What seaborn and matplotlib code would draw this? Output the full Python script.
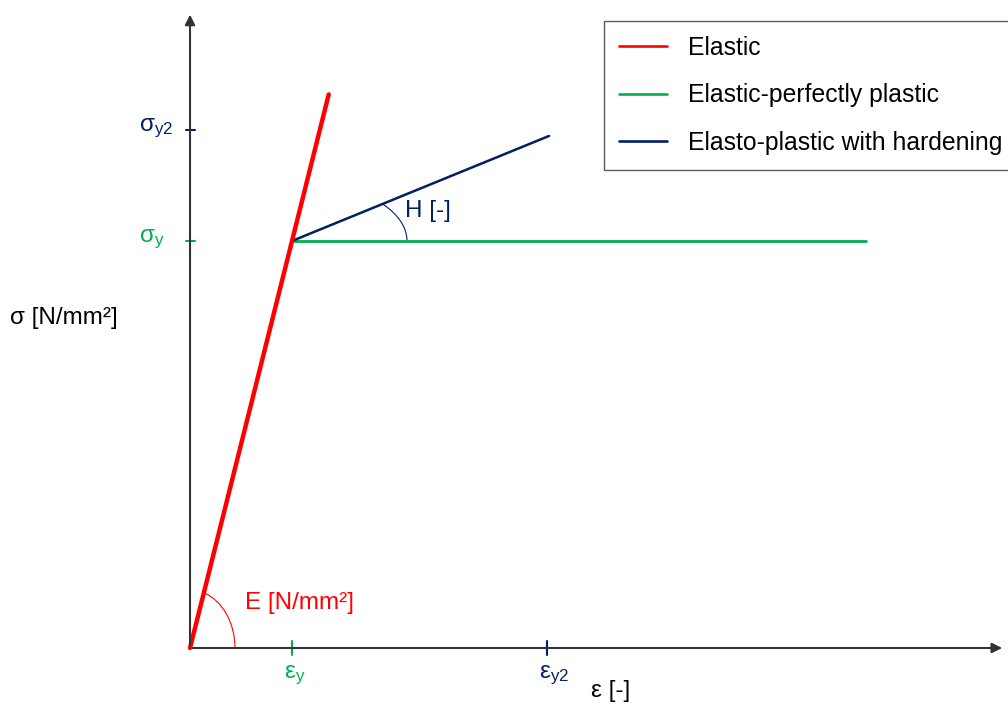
import numpy as np
import pandas as pd
import matplotlib
matplotlib.use("Agg")
import matplotlib.pyplot as plt
import seaborn as sns
from matplotlib.patches import Arc
from matplotlib.lines import Line2D

# strain in units of eps_y, stress in units of sigma_y
strain_elastic = [0.0, 1.36]
stress_elastic = [0.0, 1.36]
strain_perfect = [1.0, 6.63]
stress_perfect = [1.0, 1.0]
strain_hard = [1.0, 3.52]
stress_hard = [1.0, 1.258]

eps_ticks = [1.0, 3.5]
eps_labels = ["ε$_{\\mathrm{y}}$", "ε$_{\\mathrm{y2}}$"]
sig_ticks = [1.0, 1.273]
sig_labels = ["σ$_{\\mathrm{y}}$", "σ$_{\\mathrm{y2}}$"]

series_names = ["Elastic", "Elastic-perfectly plastic", "Elasto-plastic with hardening"]
RED, GREEN, NAVY = "#FF0000", "#00B050", "#002060"

sns.set_style("white")
plt.rcParams["font.family"] = ["Liberation Sans", "DejaVu Sans"]
plt.rcParams["text.color"] = "black"
plt.rcParams["mathtext.fontset"] = "custom"
plt.rcParams["mathtext.rm"] = "Liberation Sans"
plt.rcParams["mathtext.it"] = "Liberation Sans"
FS = 17.5

fig = plt.figure(figsize=(10.08, 7.06), dpi=100)
ax = fig.add_axes([0, 0, 1, 1])
ax.set_xlim(-1.863, 8.02)
ax.set_ylim(-0.1425, 1.592)
ax.axis("off")

# axes with arrows
ax.annotate("", xy=(7.99, 0), xytext=(0, 0),
            arrowprops=dict(arrowstyle="-|>", color="#333333", lw=1.5, mutation_scale=15))
ax.annotate("", xy=(0, 1.563), xytext=(0, 0),
            arrowprops=dict(arrowstyle="-|>", color="#333333", lw=1.5, mutation_scale=15))

sns.lineplot(x=strain_perfect, y=stress_perfect, ax=ax, color=GREEN, lw=2.0, sort=False)
sns.lineplot(x=strain_hard, y=stress_hard, ax=ax, color=NAVY, lw=1.8, sort=False)
sns.lineplot(x=strain_elastic, y=stress_elastic, ax=ax, color=RED, lw=3.2, sort=False)

# angle arcs
ax.add_patch(Arc((0, 0), 0.882, 0.285, theta1=0, theta2=45, color=RED, lw=0.8))
slope_ang = np.degrees(np.arctan2(stress_hard[1] - stress_hard[0], strain_hard[1] - strain_hard[0]))
ax.add_patch(Arc((strain_hard[0], stress_hard[0]), 2.255, 0.295, theta1=0, theta2=slope_ang,
                 color=NAVY, lw=0.8))

# ticks
for x, lab, c in zip(eps_ticks, eps_labels, [GREEN, NAVY]):
    ax.plot([x, x], [-0.017, 0.017], color=c, lw=1.5)
    ax.text(x - 0.08, -0.068, lab, color=c, fontsize=FS, ha="left", va="center")
for y, lab, c in zip(sig_ticks, sig_labels, [GREEN, NAVY]):
    ax.plot([-0.044, 0.044], [y, y], color=c, lw=1.5)
    ax.text(-0.5, y + 0.003, lab, color=c, fontsize=FS, ha="left", va="center")

ax.text(4.12, -0.105, "ε [-]", fontsize=FS, ha="center", va="center", color="black")
ax.text(-1.765, 0.811, "σ [N/mm²]", fontsize=FS, ha="left", va="center", color="black")
ax.text(2.108, 1.074, "H [-]", fontsize=FS, ha="left", va="center", color=NAVY)
ax.text(0.539, 0.111, "E [N/mm²]", fontsize=FS, ha="left", va="center", color=RED)

handles = [Line2D([], [], color=c, lw=1.9) for c in [RED, GREEN, NAVY]]
leg = ax.legend(handles, series_names, loc="upper left", bbox_to_anchor=(604 / 1008, 1 - 21 / 706),
                bbox_transform=fig.transFigure, fontsize=17.8, frameon=True, fancybox=False,
                handlelength=1.95, handletextpad=0.85, labelspacing=0.95, borderpad=0.6,
                borderaxespad=0)
leg.get_frame().set_edgecolor("#333333")
leg.get_frame().set_linewidth(1.0)
for t in leg.get_texts():
    t.set_color("black")

fig.savefig("out.png", dpi=100)
